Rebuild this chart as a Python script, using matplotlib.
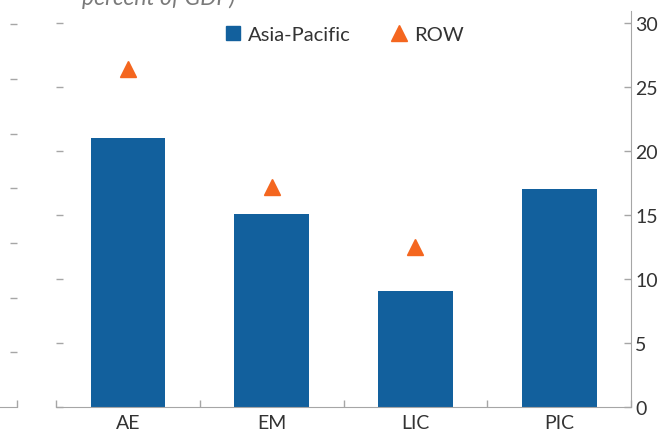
import matplotlib
matplotlib.use('Agg')
import matplotlib.pyplot as plt
from matplotlib.lines import Line2D
import numpy as np

plt.rcParams['font.family'] = ['Lato', 'DejaVu Sans']

categories = ['AE', 'EM', 'LIC', 'PIC']
asia_pacific = [21.0, 15.1, 9.1, 17.0]
row = [26.4, 17.2, 12.5, np.nan]  # no ROW value for PIC
right_ticks = [0, 5, 10, 15, 20, 25, 30]
left_panel_ticks = [0, 1, 2, 3, 4, 5, 6, 7]

BLUE = '#12609d'
ORANGE = '#f4661f'
GRAY = '#a6a6a6'
TEXT = '#333333'

W, H = 662, 435
fig = plt.figure(figsize=(W / 100, H / 100), dpi=100)

def px_box(x0, x1, y_top, y_bot):
    return [x0 / W, 1 - y_bot / H, (x1 - x0) / W, (y_bot - y_top) / H]

# cut-off neighbouring panel on the left
ax0 = fig.add_axes(px_box(-200, 17, 12, 408))
ax0.set_ylim(0, 7.24)
ax0.set_xlim(0, 1)
ax0.set_yticks(left_panel_ticks[1:])
ax0.yaxis.tick_right()
ax0.tick_params(axis='y', right=True, labelright=False, direction='in', length=5, color=GRAY, width=1)
ax0.set_xticks([1])
ax0.tick_params(axis='x', direction='in', length=5, color=GRAY, labelbottom=False, width=1)
for s in ['top', 'left', 'right']:
    ax0.spines[s].set_visible(False)
ax0.spines['bottom'].set_color(GRAY)

# main panel
ax = fig.add_axes(px_box(56, 631, 12, 408))
x = np.arange(len(categories))
ax.bar(x, asia_pacific, width=0.52, color=BLUE, zorder=2)
ax.plot(x, row, linestyle='none', marker='^', markersize=11, color=ORANGE, zorder=3)

ax.set_xlim(-0.5, len(categories) - 0.5)
ax.set_ylim(0, 30.94)

ax.set_yticks(right_ticks)
ax.yaxis.tick_right()
ax.tick_params(axis='y', left=True, right=True, labelleft=False, labelright=True,
               direction='in', length=5, color=GRAY, width=1,
               labelsize=14, labelcolor=TEXT, pad=3)

ax.set_xticks(np.arange(len(categories) + 1) - 0.5)
ax.set_xticklabels([])
ax.tick_params(axis='x', which='major', direction='in', length=5, color=GRAY, width=1)
ax.set_xticks(x, minor=True)
ax.set_xticklabels(categories, minor=True)
ax.tick_params(axis='x', which='minor', length=0, labelsize=14, labelcolor=TEXT, pad=5)

for s in ['top', 'left']:
    ax.spines[s].set_visible(False)
for s in ['bottom', 'right']:
    ax.spines[s].set_color(GRAY)

handles = [
    Line2D([], [], linestyle='none', marker='s', markersize=10.5, color=BLUE, label='Asia-Pacific'),
    Line2D([], [], linestyle='none', marker='^', markersize=11, color=ORANGE, label='ROW'),
]
ax.legend(handles=handles, loc='center', bbox_to_anchor=(0.5, 1 - 23 / 396), ncol=2,
          frameon=False, fontsize=14.5, labelcolor=TEXT, handletextpad=0.25,
          columnspacing=1.9, handlelength=1.0)

# subtitle cut off at the top edge, as in the reference
fig.text(82 / W, 1 - 5 / H, 'percent of GDP)', fontsize=16.5, style='italic',
         color='#7a7a7a', va='baseline', ha='left')

fig.savefig('out.png', dpi=100)
